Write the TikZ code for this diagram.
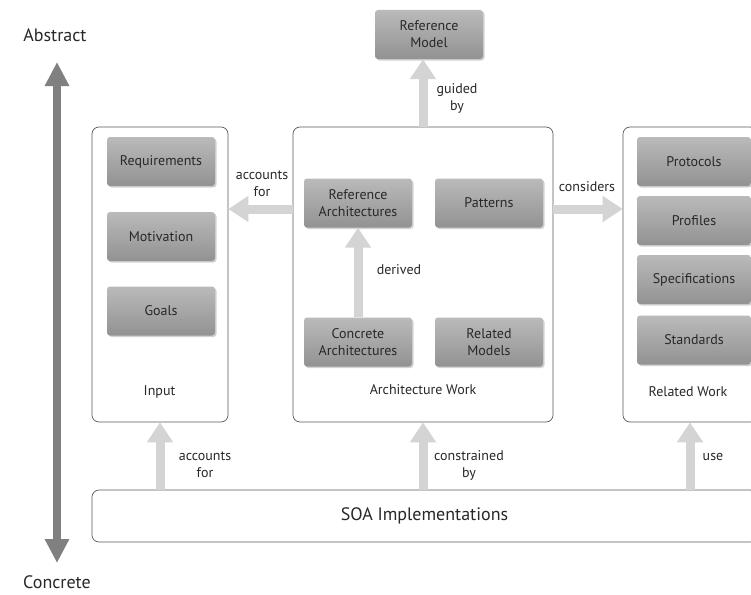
\documentclass[tikz,border=0pt]{standalone}
\usepackage{fontspec}
\setmainfont{PT Sans}
\usetikzlibrary{arrows.meta,shadows,calc}
\definecolor{boxtop}{RGB}{186,186,186}
\definecolor{boxbot}{RGB}{146,146,146}
\definecolor{fatgray}{RGB}{212,212,212}
\definecolor{axisgray}{RGB}{128,128,128}
\definecolor{framegray}{RGB}{90,90,90}
\definecolor{txt}{RGB}{40,40,40}
\begin{document}
\begin{tikzpicture}[x=1pt,y=-1pt,
  every node/.style={text=txt,font=\fontsize{14}{17}\selectfont},
  graybox/.style={rectangle,rounded corners=3pt,top color=boxtop,bottom color=boxbot,
    minimum width=108pt,minimum height=49pt,align=center,inner sep=1pt,
    drop shadow={shadow xshift=1.5pt,shadow yshift=-1.5pt,opacity=0.35}},
  container/.style={draw=framegray,line width=0.7pt,rounded corners=7pt,fill=white,inner sep=0pt},
  fat/.style={draw=fatgray,line width=9pt,-{Triangle[width=25pt,length=20pt]}},
  lbl/.style={align=center,font=\fontsize{14}{17}\selectfont}]
\useasboundingbox (0,0) rectangle (751,594);
\fill[white] (0,0) rectangle (751,594);
% containers
\node[container,minimum width=136pt,minimum height=295pt] (input) at (160,274.5) {};
\node[container,minimum width=260pt,minimum height=295pt] (arch) at (423,274.5) {};
\node[container,minimum width=134pt,minimum height=295pt] (related) at (690,274.5) {};
\node[container,minimum width=665pt,minimum height=52pt,font=\fontsize{18}{20}\selectfont] (soa) at (424.5,516) {SOA Implementations};
% container titles
\node (inputlbl) at (159.5,392) {Input};
\node (archlbl) at (423,390) {Architecture Work};
\node (rellbl) at (688,392) {Related Work};
% gray boxes
\node[graybox] (req) at (161,161.5) {Requirements};
\node[graybox] (mot) at (161,236.5) {Motivation};
\node[graybox] (goals) at (161,311) {Goals};
\node[graybox] (refarch) at (358,203) {Reference\\Architectures};
\node[graybox] (patterns) at (489,203) {Patterns};
\node[graybox] (concarch) at (358,342) {Concrete\\Architectures};
\node[graybox] (relmod) at (489,342) {Related\\Models};
\node[graybox] (refmodel) at (429,34.5) {Reference\\Model};
\node[graybox,minimum width=114pt] (proto) at (694,161.5) {Protocols};
\node[graybox,minimum width=114pt] (prof) at (694,220.5) {Profiles};
\node[graybox,minimum width=114pt] (spec) at (694,279.5) {Specifications};
\node[graybox,minimum width=114pt] (std) at (694,340) {Standards};
% fat arrows
\draw[fat] (arch.north) -- (arch.north |- refmodel.south);
\draw[fat] (arch.west |- 0,209) -- (input.east |- 0,209);
\draw[fat] (arch.east |- 0,209) -- (related.west |- 0,209);
\draw[fat] (concarch.north) -- (refarch.south);
\draw[fat] (soa.north -| input.south) -- (input.south);
\draw[fat] (soa.north -| arch.south) -- (arch.south);
\draw[fat] (soa.north -| related.south) -- (related.south);
% labels
\node[lbl] (lguided) at (457,98.5) {guided\\by};
\node[lbl] (lacc1) at (262,183.5) {accounts\\for};
\node[lbl] (lcons) at (587,187) {considers};
\node[lbl] (lderiv) at (399,270) {derived};
\node[lbl] (lacc2) at (205,465) {accounts\\for};
\node[lbl] (lconstr) at (469,465) {constrained\\by};
\node[lbl] (luse) at (713,457) {use};
% abstract/concrete axis
\node[font=\fontsize{18}{20}\selectfont] (abs) at (55,35) {Abstract};
\node[font=\fontsize{18}{20}\selectfont] (conc) at (57,582) {Concrete};
\coordinate (axtop) at (57,62);
\coordinate (axbot) at (57,563);
\draw[draw=axisgray,line width=8pt,{Triangle[width=23pt,length=24pt]}-{Triangle[width=23pt,length=24pt]}] (axtop) -- (axbot);
\end{tikzpicture}
\end{document}
